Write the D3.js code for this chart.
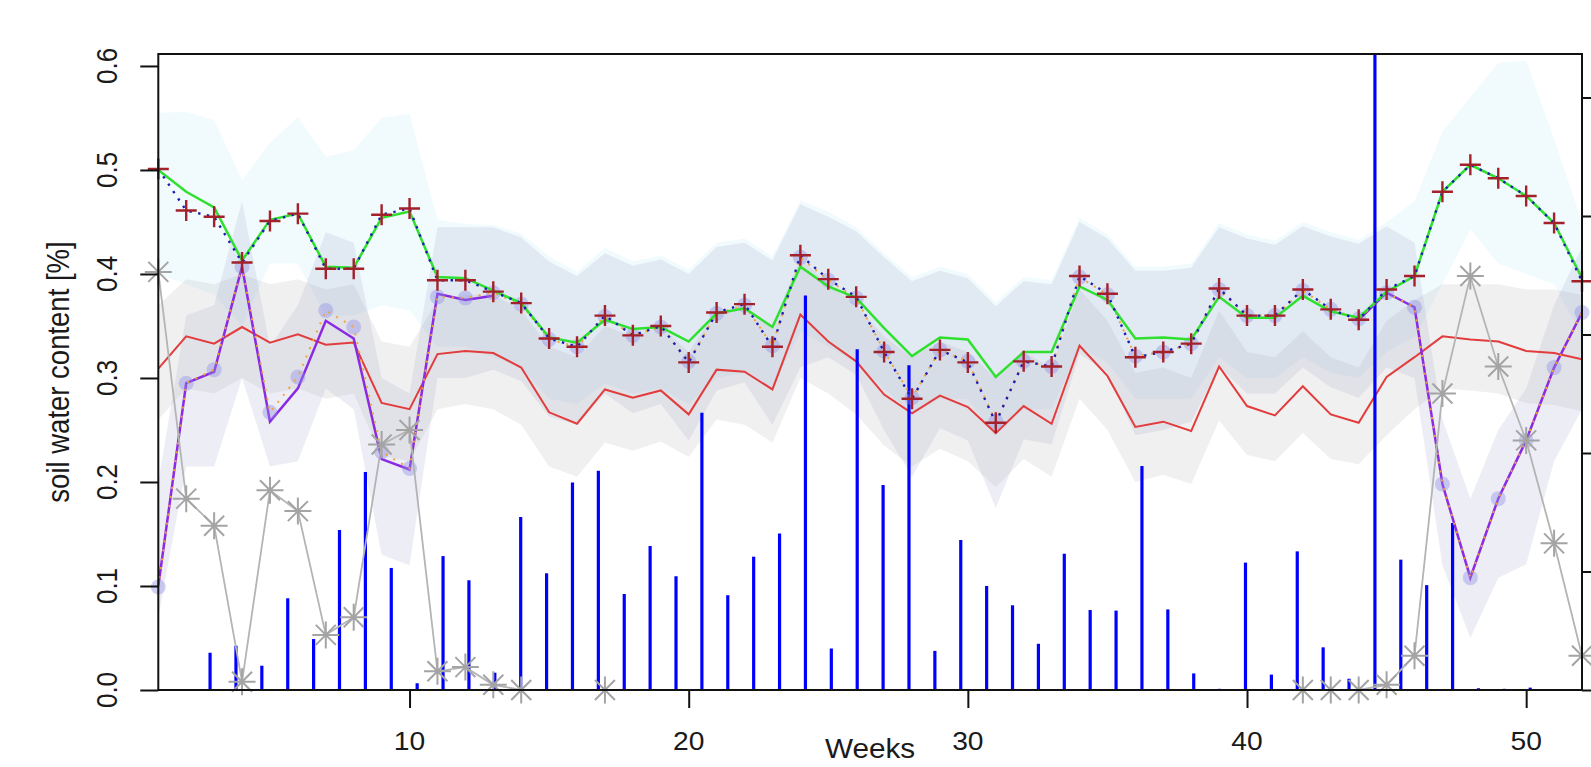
<!DOCTYPE html>
<html lang="en">
<head>
<meta charset="utf-8">
<script src="https://cdn.jsdelivr.net/npm/d3@7"></script>
<style>
  body { margin: 0; background: #fff; }
  svg { display: block; font-family: "Liberation Sans", Arial, sans-serif; }
</style>
</head>
<body>
<script>
// ---- data ----
var weeks = d3.range(1, 53);

// observed soil water (red +, blue dotted line)
var observed = [0.501, 0.461, 0.455, 0.411, 0.451, 0.458, 0.405, 0.405, 0.457, 0.463,
  0.394, 0.394, 0.383, 0.372, 0.338, 0.330, 0.360, 0.341, 0.350, 0.315,
  0.363, 0.371, 0.330, 0.418, 0.395, 0.378, 0.325, 0.280, 0.327, 0.315,
  0.257, 0.316, 0.311, 0.398, 0.381, 0.320, 0.325, 0.333, 0.386, 0.360,
  0.360, 0.385, 0.366, 0.356, 0.385, 0.398, 0.479, 0.505, 0.492, 0.475,
  0.449, 0.393];

// green model
var modelA = [0.500, 0.479, 0.464, 0.413, 0.452, 0.458, 0.407, 0.406, 0.454, 0.460,
  0.397, 0.396, 0.384, 0.372, 0.339, 0.334, 0.356, 0.347, 0.349, 0.335,
  0.362, 0.367, 0.349, 0.407, 0.388, 0.377, 0.348, 0.321, 0.339, 0.337,
  0.301, 0.325, 0.325, 0.388, 0.375, 0.338, 0.339, 0.337, 0.378, 0.358,
  0.358, 0.379, 0.364, 0.358, 0.383, 0.398, 0.479, 0.505, 0.492, 0.475,
  0.449, 0.396];
var modelAHi = [0.555, 0.556, 0.548, 0.490, 0.526, 0.551, 0.513, 0.519, 0.550, 0.554,
  0.452, 0.448, 0.447, 0.439, 0.417, 0.402, 0.425, 0.412, 0.418, 0.404,
  0.430, 0.434, 0.417, 0.471, 0.460, 0.445, 0.420, 0.397, 0.407, 0.400,
  0.373, 0.397, 0.394, 0.454, 0.438, 0.407, 0.407, 0.410, 0.449, 0.438,
  0.432, 0.450, 0.440, 0.433, 0.450, 0.470, 0.537, 0.570, 0.603, 0.605,
  0.530, 0.450];
var modelALo = [0.400, 0.390, 0.380, 0.350, 0.410, 0.410, 0.360, 0.360, 0.370, 0.365,
  0.330, 0.330, 0.320, 0.310, 0.280, 0.275, 0.295, 0.285, 0.290, 0.275,
  0.300, 0.305, 0.290, 0.345, 0.330, 0.315, 0.290, 0.265, 0.280, 0.280,
  0.245, 0.270, 0.270, 0.330, 0.315, 0.280, 0.280, 0.280, 0.320, 0.300,
  0.300, 0.320, 0.305, 0.300, 0.325, 0.340, 0.390, 0.443, 0.410, 0.400,
  0.390, 0.340];

// red model
var modelB = [0.309, 0.340, 0.333, 0.349, 0.334, 0.342, 0.332, 0.334, 0.276, 0.270,
  0.323, 0.326, 0.324, 0.310, 0.267, 0.256, 0.289, 0.281, 0.288, 0.265,
  0.308, 0.306, 0.289, 0.361, 0.335, 0.316, 0.284, 0.266, 0.283, 0.272,
  0.247, 0.273, 0.256, 0.331, 0.302, 0.253, 0.258, 0.249, 0.311, 0.273,
  0.264, 0.292, 0.265, 0.257, 0.301, 0.320, 0.340, 0.337, 0.335, 0.326,
  0.324, 0.318];
var modelBHi = [0.370, 0.395, 0.390, 0.400, 0.390, 0.395, 0.385, 0.390, 0.335, 0.330,
  0.375, 0.380, 0.380, 0.365, 0.330, 0.320, 0.350, 0.340, 0.350, 0.325,
  0.365, 0.365, 0.350, 0.415, 0.390, 0.370, 0.340, 0.320, 0.335, 0.325,
  0.300, 0.325, 0.310, 0.385, 0.355, 0.305, 0.310, 0.300, 0.365, 0.325,
  0.320, 0.345, 0.320, 0.310, 0.355, 0.375, 0.390, 0.390, 0.390, 0.385,
  0.385, 0.380];
var modelBLo = [0.260, 0.290, 0.285, 0.300, 0.285, 0.290, 0.280, 0.285, 0.225, 0.220,
  0.270, 0.275, 0.270, 0.255, 0.215, 0.205, 0.238, 0.230, 0.239, 0.224,
  0.260, 0.255, 0.238, 0.300, 0.285, 0.265, 0.235, 0.215, 0.232, 0.220,
  0.195, 0.222, 0.205, 0.280, 0.250, 0.200, 0.207, 0.198, 0.259, 0.226,
  0.220, 0.247, 0.222, 0.217, 0.245, 0.270, 0.290, 0.288, 0.285, 0.276,
  0.274, 0.268];

// satellite points (lavender circles, orange dotted) and purple line
var satellite = [0.099, 0.295, 0.308, 0.407, 0.267, 0.301, 0.365, 0.349, 0.229, 0.213,
  0.378, 0.377, 0.382, 0.371, 0.337, 0.330, 0.359, 0.341, 0.349, 0.316,
  0.362, 0.370, 0.331, 0.416, 0.394, 0.377, 0.326, 0.281, 0.327, 0.316,
  0.258, 0.316, 0.311, 0.397, 0.380, 0.321, 0.325, 0.333, 0.385, 0.360,
  0.360, 0.384, 0.366, 0.357, 0.382, 0.368, 0.198, 0.108, 0.184, 0.240,
  0.310, 0.363];
var satelliteHi = [0.200, 0.360, 0.370, 0.470, 0.330, 0.370, 0.440, 0.430, 0.300, 0.285,
  0.445, 0.445, 0.445, 0.435, 0.412, 0.398, 0.420, 0.408, 0.414, 0.400,
  0.426, 0.430, 0.413, 0.467, 0.455, 0.441, 0.416, 0.393, 0.403, 0.396,
  0.369, 0.393, 0.390, 0.450, 0.434, 0.403, 0.403, 0.406, 0.445, 0.434,
  0.428, 0.446, 0.436, 0.429, 0.446, 0.430, 0.260, 0.184, 0.250, 0.290,
  0.370, 0.426];
var satelliteLo = [0.070, 0.215, 0.215, 0.300, 0.215, 0.220, 0.290, 0.270, 0.130, 0.120,
  0.300, 0.300, 0.308, 0.297, 0.263, 0.255, 0.285, 0.266, 0.275, 0.240,
  0.288, 0.296, 0.255, 0.310, 0.320, 0.303, 0.250, 0.205, 0.252, 0.240,
  0.175, 0.241, 0.236, 0.323, 0.306, 0.245, 0.250, 0.258, 0.311, 0.285,
  0.285, 0.310, 0.291, 0.281, 0.310, 0.300, 0.120, 0.050, 0.108, 0.121,
  0.220, 0.270];
var satelliteLine = [0.100, 0.295, 0.306, 0.407, 0.258, 0.290, 0.355, 0.338, 0.222, 0.212,
  0.381, 0.375, 0.379, null, null, null, null, null, null, null,
  null, null, null, null, null, null, null, null, null, null,
  null, null, null, null, null, null, null, null, null, null,
  null, null, null, 0.356, 0.382, 0.368, 0.198, 0.108, 0.184, 0.240,
  0.310, 0.363];

// grey asterisks
var product2 = [0.402, 0.184, 0.158, 0.008, 0.192, 0.172, 0.053, 0.070, 0.236, 0.250,
  0.018, 0.022, 0.005, 0.000, null, null, 0.000, null, null, null,
  null, null, null, null, null, null, null, null, null, null,
  null, null, null, null, null, null, null, null, null, null,
  null, 0.000, 0.000, 0.000, 0.005, 0.033, 0.285, 0.398, 0.311, 0.240,
  0.141, 0.033];

// precipitation (right axis), 56 periods
var precip = [0, 0, 3.15, 3.74, 2.05, 7.74, 4.3, 13.5, 18.4, 10.3,
  0.57, 11.3, 9.26, 1.46, 14.6, 9.85, 17.5, 18.5, 8.1, 12.15,
  9.6, 23.4, 8.0, 11.25, 13.2, 33.3, 3.5, 28.75, 17.3, 27.4,
  3.3, 12.66, 8.78, 7.15, 3.9, 11.5, 6.75, 6.7, 18.9, 6.8,
  1.4, 0.1, 10.75, 1.3, 11.7, 3.6, 0.95, 60, 11.0, 8.85,
  14.1, 0.15, 0.1, 0.2, 0, 0];

var xTicks = [10, 20, 30, 40, 50];
var yTicks = [0, 0.1, 0.2, 0.3, 0.4, 0.5, 0.6];
var rTicks = [0, 10, 20, 30, 40, 50];

// ---- layout ----
var w = 1591, h = 767;
var plotL = 158.3, plotR = 1582, plotT = 54, plotB = 690;

var svg = d3.select("body").append("svg")
  .attr("width", w).attr("height", h);

var x = d3.scaleLinear().domain([1, 52]).range([plotL, plotR]);
var xb = d3.scaleLinear().domain([1, 56]).range([plotL, plotR]);
var y = d3.scaleLinear().domain([0, 0.6115]).range([plotB, plotT]);
var yr = d3.scaleLinear().domain([0, 53.67]).range([plotB, plotT]);

svg.append("clipPath").attr("id", "plot")
  .append("rect").attr("x", plotL).attr("y", plotT)
  .attr("width", plotR - plotL).attr("height", plotB - plotT);

var plot = svg.append("g").attr("clip-path", "url(#plot)");

function band(hi, lo, fill) {
  var area = d3.area()
    .x(function(d) { return x(d); })
    .y0(function(d, i) { return y(lo[i]); })
    .y1(function(d, i) { return y(hi[i]); });
  plot.append("path").attr("d", area(weeks)).attr("fill", fill).attr("stroke", "none");
}
band(modelAHi, modelALo, "rgba(175,235,245,0.18)");
band(satelliteHi, satelliteLo, "rgba(140,140,195,0.16)");
band(modelBHi, modelBLo, "rgba(160,160,165,0.16)");

function series(vals) {
  return weeks.map(function(wk, i) { return [wk, vals[i]]; });
}
var line = d3.line()
  .defined(function(d) { return d[1] != null; })
  .x(function(d) { return x(d[0]); })
  .y(function(d) { return y(d[1]); });

// red model
plot.append("path").attr("d", line(series(modelB)))
  .attr("fill", "none").attr("stroke", "#e23c3c").attr("stroke-width", 2);

// purple line
svg.append("path").attr("d", line(series(satelliteLine)))
  .attr("fill", "none").attr("stroke", "#8a2be2").attr("stroke-width", 2.5);

// satellite circles + orange dotted
svg.append("g").selectAll("circle")
  .data(series(satellite)).enter().append("circle")
  .attr("cx", function(d) { return x(d[0]); })
  .attr("cy", function(d) { return y(d[1]); })
  .attr("r", 7.5)
  .attr("fill", "rgba(140,140,230,0.4)");
svg.append("path").attr("d", line(series(satellite)))
  .attr("fill", "none").attr("stroke", "#f2a43a").attr("stroke-width", 2)
  .attr("stroke-dasharray", "2,7");

// grey asterisks
svg.append("path").attr("d", line(series(product2)))
  .attr("fill", "none").attr("stroke", "#b4b4b4").attr("stroke-width", 1.8);
svg.append("g").selectAll("path")
  .data(series(product2).filter(function(d) { return d[1] != null; }))
  .enter().append("path")
  .attr("d", function(d) {
    var cx = x(d[0]), cy = y(d[1]), a = 13.5, b = 10;
    return "M" + (cx - a) + "," + cy + "H" + (cx + a) +
      "M" + cx + "," + (cy - a) + "V" + (cy + a) +
      "M" + (cx - b) + "," + (cy - b) + "L" + (cx + b) + "," + (cy + b) +
      "M" + (cx - b) + "," + (cy + b) + "L" + (cx + b) + "," + (cy - b);
  })
  .attr("fill", "none").attr("stroke", "#a4a4a4").attr("stroke-width", 2);

// green model
svg.append("path").attr("d", line(series(modelA)))
  .attr("fill", "none").attr("stroke", "#2fe02f").attr("stroke-width", 2.5);

// observed: blue dotted + red crosses
svg.append("path").attr("d", line(series(observed)))
  .attr("fill", "none").attr("stroke", "#1c1cb4").attr("stroke-width", 2.4)
  .attr("stroke-dasharray", "2.4,6.5");
svg.append("g").selectAll("path")
  .data(series(observed)).enter().append("path")
  .attr("d", function(d) {
    var cx = x(d[0]), cy = y(d[1]), a = 10.5;
    return "M" + (cx - a) + "," + cy + "H" + (cx + a) +
      "M" + cx + "," + (cy - a) + "V" + (cy + a);
  })
  .attr("fill", "none").attr("stroke", "#a3212b").attr("stroke-width", 2.4);

// precipitation bars
plot.append("g").selectAll("line")
  .data(precip.map(function(v, i) { return [i + 1, v]; }).filter(function(d) { return d[1] > 0; }))
  .enter().append("line")
  .attr("x1", function(d) { return xb(d[0]); })
  .attr("x2", function(d) { return xb(d[0]); })
  .attr("y1", yr(0))
  .attr("y2", function(d) { return yr(d[1]); })
  .attr("stroke", "#0000ff").attr("stroke-width", 3.2);

// ---- axes ----
var axisColor = "#111";
svg.append("rect").attr("x", plotL).attr("y", plotT)
  .attr("width", plotR - plotL).attr("height", plotB - plotT)
  .attr("fill", "none").attr("stroke", axisColor).attr("stroke-width", 2);

var gx = svg.append("g").attr("transform", "translate(0," + plotB + ")")
  .call(d3.axisBottom(x).tickValues(xTicks).tickSize(18).tickSizeOuter(0).tickFormat(""));
var gy = svg.append("g").attr("transform", "translate(" + plotL + ",0)")
  .call(d3.axisLeft(y).tickValues(yTicks).tickSize(18).tickSizeOuter(0).tickFormat(""));
var gr = svg.append("g").attr("transform", "translate(" + plotR + ",0)")
  .call(d3.axisRight(yr).tickValues(rTicks).tickSize(18).tickSizeOuter(0).tickFormat(""));
[gx, gy, gr].forEach(function(g) {
  g.select(".domain").remove();
  g.selectAll("line").attr("stroke", axisColor).attr("stroke-width", 2);
});

svg.append("g").selectAll("text")
  .data(xTicks).enter().append("text")
  .attr("transform", function(d) { return "translate(" + x(d) + ",750) scale(1.13,1)"; })
  .attr("text-anchor", "middle").attr("font-size", 25).attr("fill", "#1a1a1a")
  .text(function(d) { return d; });

svg.append("g").selectAll("text")
  .data(yTicks).enter().append("text")
  .attr("transform", function(d) { return "translate(116.5," + y(d) + ") scale(1.13,1) rotate(-90)"; })
  .attr("text-anchor", "middle").attr("font-size", 26).attr("fill", "#1a1a1a")
  .text(function(d) { return d3.format(".1f")(d); });

svg.append("text")
  .attr("transform", "translate(870,758) scale(1.1,1)")
  .attr("text-anchor", "middle").attr("font-size", 27).attr("fill", "#1a1a1a")
  .text("Weeks");

svg.append("text")
  .attr("transform", "translate(68.5,372) scale(1.13,1) rotate(-90)")
  .attr("text-anchor", "middle").attr("font-size", 27.5).attr("fill", "#1a1a1a")
  .text("soil water content [%]");
</script>
</body>
</html>
